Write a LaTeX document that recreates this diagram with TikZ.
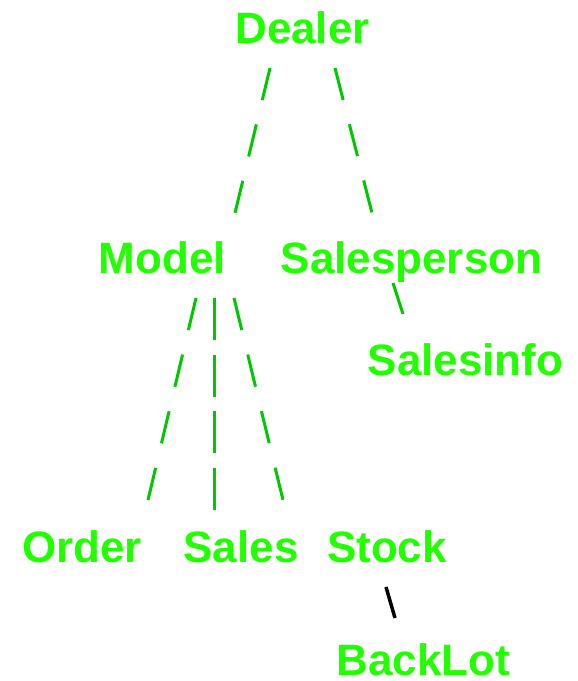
\documentclass[tikz,border=0pt]{standalone}
\usepackage{fontspec}
\setmainfont{Liberation Sans}
\usetikzlibrary{calc}
\definecolor{textgreen}{RGB}{34,255,0}
\definecolor{linegreen}{RGB}{0,200,0}
\begin{document}
\begin{tikzpicture}[x=1pt,y=-1pt,
    entity/.style={anchor=base,inner sep=0pt,outer sep=0pt,text=textgreen,
      font=\bfseries\fontsize{44}{44}\selectfont},
    link/.style={linegreen,line width=3pt}]
  \useasboundingbox (0,0) rectangle (578,681);
  \node[entity] (dealer) at (302.5,43) {Dealer};
  \node[entity] (model) at (162.5,273) {Model};
  \node[entity] (salesperson) at (411.5,273) {Salesperson};
  \node[entity] (salesinfo) at (465.5,375) {Salesinfo};
  \node[entity] (order) at (82,562) {Order};
  \node[entity] (sales) at (241,562) {Sales};
  \node[entity] (stock) at (387,562) {Stock};
  \node[entity] (backlot) at (423.5,675) {BackLot};
  % dealer level
  \draw[link,dash pattern=on 33pt off 25pt] ($(dealer.base)+(-32.5,25)$) -- ($(model.base)+(72.5,-60)$);
  \draw[link,dash pattern=on 33pt off 25pt] ($(dealer.base)+(32.5,25)$) -- ($(salesperson.base)+(-39.5,-60)$);
  % model level
  \draw[link,dash pattern=on 33pt off 25.2pt] ($(model.base)+(33.5,25)$) -- ($(order.base)+(66,-62)$);
  \draw[link,dash pattern=on 42pt off 14.7pt] ($(model.base)+(51.5,25)$) -- ($(sales.base)+(-27,-52)$);
  \draw[link,dash pattern=on 33pt off 25.2pt] ($(model.base)+(71.5,25)$) -- ($(stock.base)+(-104,-62)$);
  \draw[link] ($(salesperson.base)+(-18.5,10)$) -- ($(salesinfo.base)+(-62.5,-61)$);
  \draw[black,line width=3.5pt] ($(stock.base)+(-1,25)$) -- ($(backlot.base)+(-28.5,-57)$);
\end{tikzpicture}
\end{document}
